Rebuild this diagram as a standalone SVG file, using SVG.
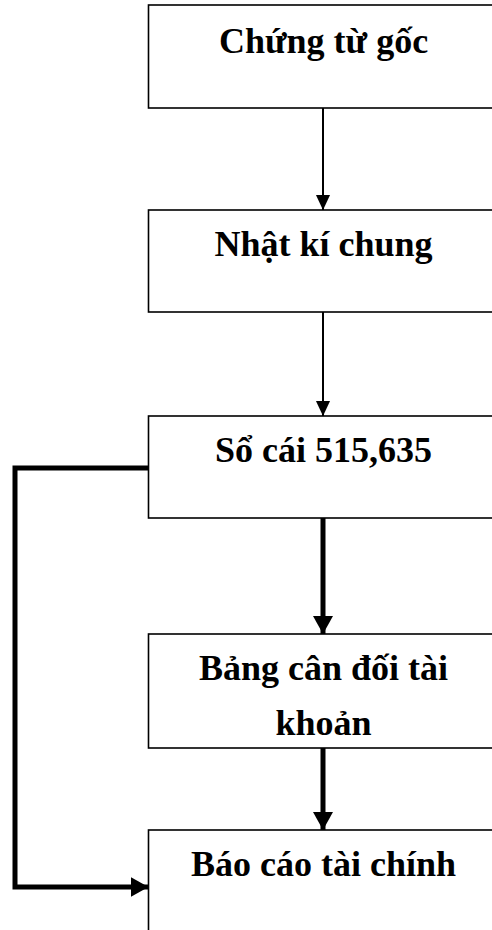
<svg xmlns="http://www.w3.org/2000/svg" width="492" height="930" viewBox="0 0 492 930">
  <style>
    .box { fill: #ffffff; stroke: #000000; stroke-width: 1.6; }
    .label { font-family: "Liberation Serif", "Times New Roman", serif; font-weight: bold; font-size: 36px; fill: #000000; text-anchor: middle; }
    .thin { fill: none; stroke: #000000; stroke-width: 2; }
    .thick { fill: none; stroke: #000000; stroke-width: 5; }
  </style>
  <defs>
    <marker id="headThin" markerUnits="userSpaceOnUse" markerWidth="15" markerHeight="16" refX="16" refY="7.5" orient="auto" viewBox="0 0 16 15">
      <path d="M0,0 L16,7.5 L0,15 z" fill="#000000"/>
    </marker>
    <marker id="headThick" markerUnits="userSpaceOnUse" markerWidth="18" markerHeight="20" refX="17" refY="9.5" orient="auto" viewBox="0 0 17 19">
      <path d="M0,0 L17,9.5 L0,19 z" fill="#000000"/>
    </marker>
  </defs>
  <rect width="492" height="930" fill="#ffffff"/>

  <g id="n-chung-tu-goc">
    <rect class="box" x="148.5" y="5" width="360" height="103"/>
    <text class="label" x="323.5" y="53">Chứng từ gốc</text>
  </g>
  <g id="n-nhat-ki-chung">
    <rect class="box" x="148.5" y="210" width="360" height="102"/>
    <text class="label" x="323.5" y="256">Nhật kí chung</text>
  </g>
  <g id="n-so-cai">
    <rect class="box" x="148.5" y="416" width="360" height="102"/>
    <text class="label" x="323.5" y="462">Sổ cái 515,635</text>
  </g>
  <g id="n-bang-can-doi">
    <rect class="box" x="148.5" y="634" width="360" height="114"/>
    <text class="label" x="323.5" y="680">Bảng cân đối tài</text>
    <text class="label" x="323.5" y="735">khoản</text>
  </g>
  <g id="n-bao-cao">
    <rect class="box" x="148.5" y="830" width="360" height="120"/>
    <text class="label" x="323.5" y="876">Báo cáo tài chính</text>
  </g>

  <g id="connectors">
    <path class="thin" d="M323,108 L323,210" marker-end="url(#headThin)"/>
    <path class="thin" d="M323,312 L323,416" marker-end="url(#headThin)"/>
    <path class="thick" d="M323,518 L323,634" marker-end="url(#headThick)"/>
    <path class="thick" d="M323,748 L323,830" marker-end="url(#headThick)"/>
    <path class="thick" d="M148.5,468 L15,468 L15,887 L148.5,887" marker-end="url(#headThick)"/>
  </g>
</svg>
